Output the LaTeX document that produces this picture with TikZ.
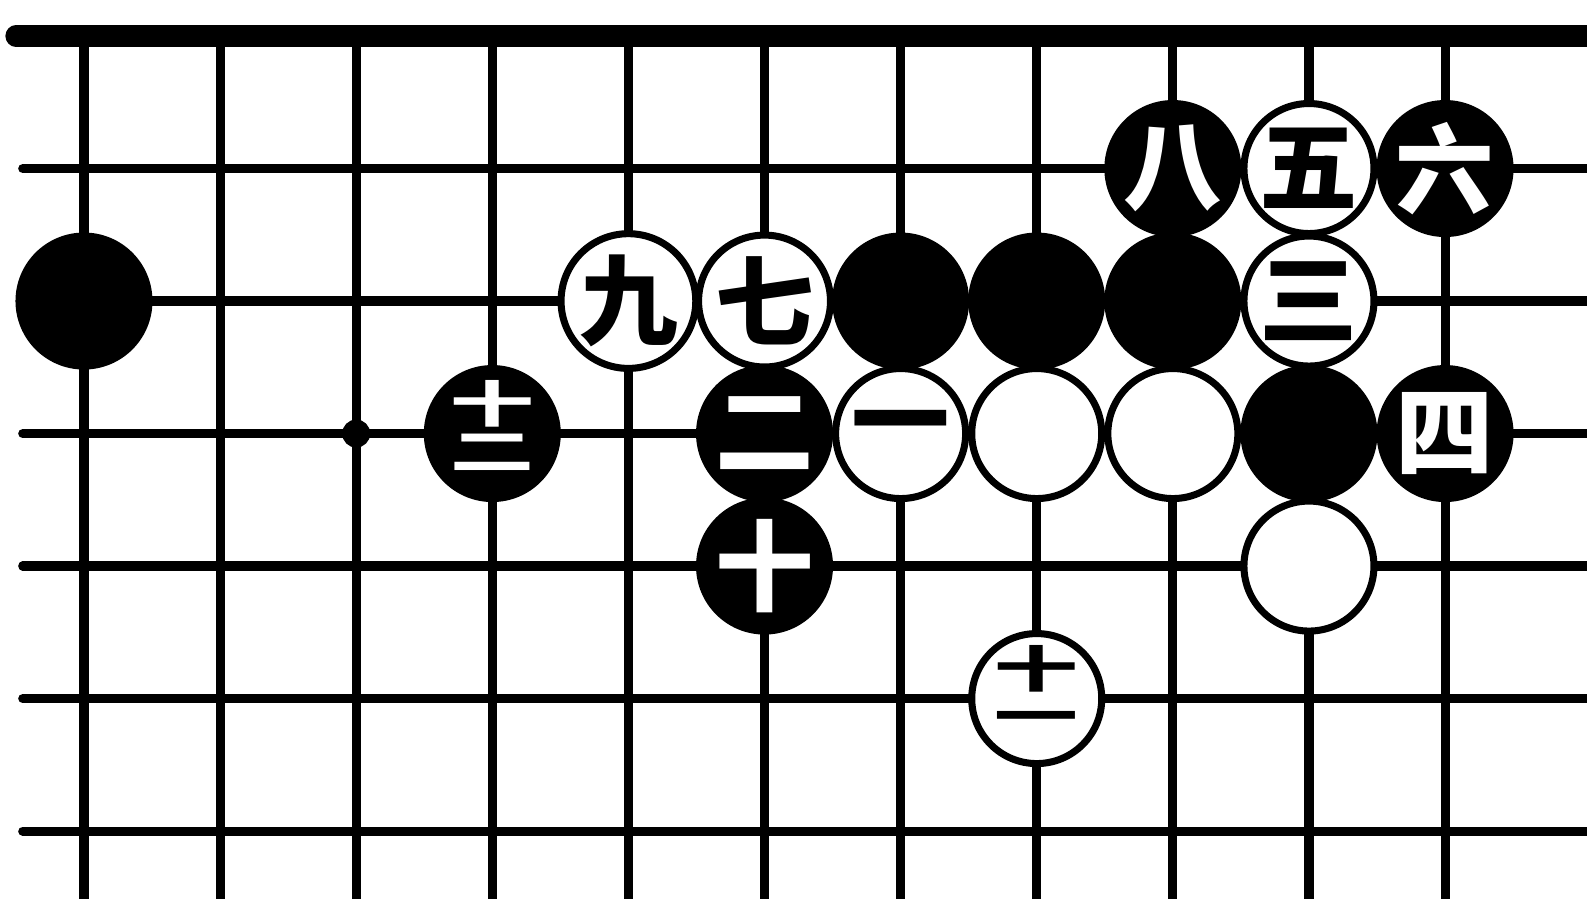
\documentclass[tikz,border=0pt]{standalone}
\usepackage{fontspec}
\usepackage{graphicx}
\newfontfamily\cjk{Noto Sans CJK SC}
\newcommand{\stacked}[2]{\scalebox{0.85}[0.5]{\begin{tabular}{@{}c@{}}#1\\[-0.2em]#2\end{tabular}}}
\usetikzlibrary{positioning}

\begin{document}
\begin{tikzpicture}[x=1.361cm, y=-1.325cm,
  gridline/.style={line width=2.6pt, line cap=round},
  edgeline/.style={line width=6pt, line cap=round},
  numfont/.style={font=\cjk\bfseries\fontsize{28}{32}\selectfont},
  stone/.style={circle, inner sep=0pt, numfont},
  bstone/.style={stone, fill=black, text=white, minimum size=1.37cm},
  wstone/.style={stone, fill=white, draw=black, line width=2pt, text=black, minimum size=1.30cm},
  numlabel/.style={inner sep=0pt, numfont}]
  \useasboundingbox (-0.617,-0.272) rectangle (11.043,6.506);
  \clip (-0.617,-0.272) rectangle (11.043,6.506);

  % Board grid
  \foreach \c in {0,...,10}
    \draw[gridline] (\c,0) -- (\c,6.8);
  \foreach \r in {1,...,6}
    \draw[gridline] (-0.45,\r) -- (11.3,\r);
  \draw[edgeline] (-0.5,0) -- (11.3,0);

  % Star point
  \fill (2,3) circle (0.14cm);

  % Row 1
  \node[bstone] (m8) at (8,1) {八};
  \node[wstone] (m5) at (9,1) {五};
  \node[bstone] (m6) at (10,1) {六};

  % Row 2
  \node[bstone] (b1) at (0,2) {};
  \node[wstone] (m9) at (4,2) {九};
  \node[wstone] (m7) at (5,2) {七};
  \node[bstone] (b2) at (6,2) {};
  \node[bstone] (b3) at (7,2) {};
  \node[bstone] (b4) at (8,2) {};
  \node[wstone] (m3) at (9,2) {三};

  % Row 3
  \node[bstone, label={[numlabel, text=white]center:\stacked{十}{二}}] (m12) at (3,3) {};
  \node[bstone] (m2) at (5,3) {二};
  \node[wstone] (m1) at (6,3) {一};
  \node[wstone] (w1) at (7,3) {};
  \node[wstone] (w2) at (8,3) {};
  \node[bstone] (b5) at (9,3) {};
  \node[bstone] (m4) at (10,3) {四};

  % Row 4
  \node[bstone] (m10) at (5,4) {十};
  \node[wstone] (w3) at (9,4) {};

  % Row 5
  \node[wstone, label={[numlabel, text=black]center:\stacked{十}{一}}] (m11) at (7,5) {};
\end{tikzpicture}
\end{document}
